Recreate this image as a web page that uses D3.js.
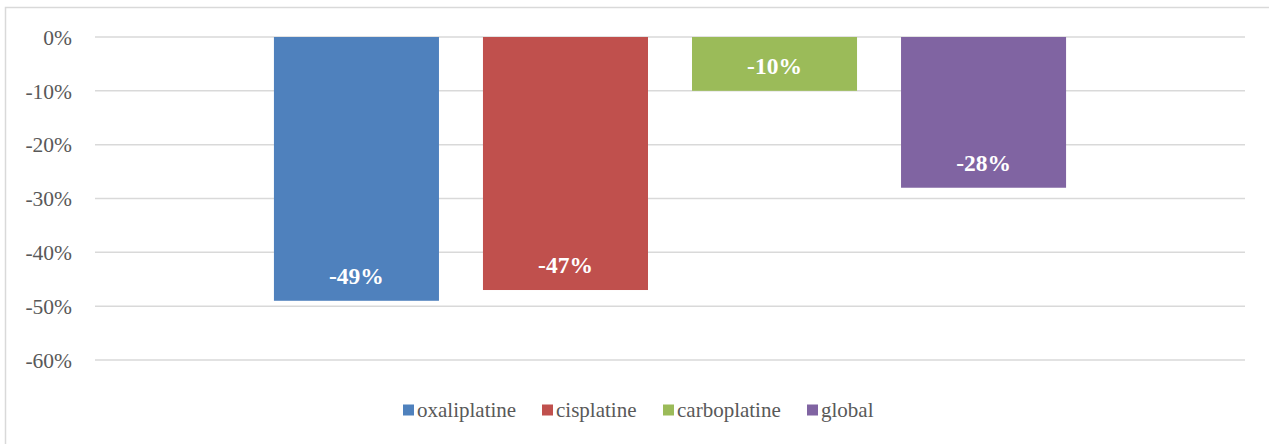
<!DOCTYPE html>
<html>
<head>
<meta charset="utf-8">
<script src="https://cdn.jsdelivr.net/npm/d3@7"></script>
<style>
  html, body { margin: 0; padding: 0; background: #fff; }
  svg { display: block; }
  svg text { font-family: "Liberation Serif", "Times New Roman", Times, serif; }
</style>
</head>
<body>
<svg id="chart" width="1269" height="444"></svg>
<script>
// Relative change per platinum compound
const series = ["oxaliplatine", "cisplatine", "carboplatine", "global"];
const values = [-0.49, -0.47, -0.10, -0.28];
const colors = ["#4f81bd", "#c0504d", "#9bbb59", "#8064a2"];
const yTicks = [0, -0.1, -0.2, -0.3, -0.4, -0.5, -0.6];

const serifFont = '"Liberation Serif", "Times New Roman", Times, serif';
const svg = d3.select("#chart");
const plot = { left: 95, right: 1245, top: 37, bottom: 360 };

// chart frame
svg.append("rect")
  .attr("x", 5.5).attr("y", 7.5)
  .attr("width", 1300).attr("height", 460)
  .attr("fill", "#fff")
  .attr("stroke", "#d9d9d9").attr("stroke-width", 1.5);

const y = d3.scaleLinear().domain([0, -0.6]).range([plot.top, plot.bottom]);
const x = d3.scaleBand()
  .domain(series)
  .range([plot.left, plot.right])
  .paddingInner(0.2105)
  .paddingOuter(0.856);

const fmt = d => d3.format(".0%")(d).replace("−", "-");

// gridlines
svg.append("g")
  .selectAll("line")
  .data(yTicks)
  .join("line")
  .attr("x1", plot.left).attr("x2", plot.right)
  .attr("y1", d => y(d)).attr("y2", d => y(d))
  .attr("stroke", "#d9d9d9").attr("stroke-width", 1.5);

// y axis labels
const yAxis = d3.axisLeft(y).tickValues(yTicks).tickFormat(fmt).tickSize(0).tickPadding(0);
const gy = svg.append("g").attr("transform", "translate(72,0)").call(yAxis);
gy.attr("font-family", null).attr("font-size", null);
gy.select(".domain").remove();
gy.selectAll("text")
  .style("font-family", serifFont)
  .style("font-size", "21.5px")
  .attr("fill", "#595959")
  .attr("dy", "0.34em");

// bars
const data = series.map((s, i) => ({ s, v: values[i], c: colors[i] }));
svg.append("g")
  .selectAll("rect")
  .data(data)
  .join("rect")
  .attr("x", d => x(d.s))
  .attr("width", x.bandwidth())
  .attr("y", d => y(0))
  .attr("height", d => y(d.v) - y(0))
  .attr("fill", d => d.c);

// value labels inside bar ends
svg.append("g")
  .selectAll("text")
  .data(data)
  .join("text")
  .attr("x", d => x(d.s) + x.bandwidth() / 2)
  .attr("y", d => y(d.v) - 25)
  .attr("dy", "0.35em")
  .attr("text-anchor", "middle")
  .style("font-family", serifFont)
  .style("font-weight", "bold")
  .style("font-size", "23.5px")
  .attr("fill", "#fff")
  .text(d => fmt(d.v));

// legend
const legendX = [403, 542, 663, 807];
const lg = svg.append("g")
  .selectAll("g")
  .data(data)
  .join("g")
  .attr("transform", (d, i) => `translate(${legendX[i]},410)`);
lg.append("rect")
  .attr("x", 0).attr("y", -5.5)
  .attr("width", 11).attr("height", 11)
  .attr("fill", d => d.c);
lg.append("text")
  .attr("x", 14).attr("y", 0)
  .attr("dy", "0.34em")
  .style("font-family", serifFont)
  .style("font-size", "21px")
  .attr("fill", "#595959")
  .text(d => d.s);
</script>
</body>
</html>
